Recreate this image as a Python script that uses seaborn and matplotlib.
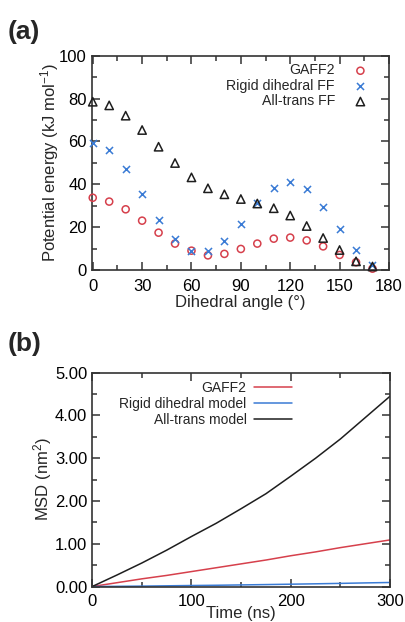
import matplotlib
matplotlib.use("Agg")
import matplotlib.pyplot as plt
import seaborn as sns
import numpy as np
import pandas as pd
from matplotlib.ticker import MultipleLocator, FormatStrFormatter

# ---- Data panel (a) ----
angles = [0, 10, 20, 30, 40, 50, 60, 70, 80, 90, 100, 110, 120, 130, 140, 150, 160, 170]
gaff2_e = [33.7, 31.9, 28.3, 23.0, 17.4, 12.3, 9.0, 6.8, 7.5, 9.8, 12.3, 14.6, 15.1, 13.8, 11.0, 7.0, 3.6, 0.6]
rigid_e = [59.4, 56.1, 47.3, 35.5, 23.3, 14.5, 9.0, 9.0, 13.4, 21.6, 31.3, 38.4, 41.1, 37.9, 29.5, 19.0, 9.3, 2.2]
alltrans_e = [78.5, 76.8, 72.0, 65.3, 57.5, 49.9, 43.2, 38.1, 35.3, 33.1, 31.0, 28.8, 25.4, 20.5, 14.9, 9.3, 4.0, 1.6]

# ---- Data panel (b) ----
time_ns = [0, 25, 50, 75, 100, 125, 150, 175, 200, 225, 250, 275, 300]
msd_gaff2 = [0, 0.09, 0.18, 0.26, 0.35, 0.44, 0.53, 0.62, 0.72, 0.81, 0.91, 1.00, 1.09]
msd_rigid = [0, 0.005, 0.01, 0.017, 0.024, 0.03, 0.038, 0.046, 0.055, 0.064, 0.074, 0.085, 0.095]
msd_alltrans = [0, 0.27, 0.55, 0.85, 1.17, 1.48, 1.82, 2.17, 2.58, 3.00, 3.45, 3.95, 4.45]

RED = "#d6404c"
BLUE = "#3a7bd5"
BLACK = "#1e1e1e"

sns.set_style("ticks")
plt.rcParams['font.family'] = ['Liberation Sans', 'DejaVu Sans']
plt.rcParams['mathtext.fontset'] = 'custom'
plt.rcParams['mathtext.rm'] = 'Liberation Sans'
plt.rcParams['mathtext.it'] = 'Liberation Sans:italic'
plt.rcParams['axes.linewidth'] = 1.2

fig = plt.figure(figsize=(4.06, 6.22), dpi=100)
axa = fig.add_axes([0.226, 0.566, 0.732, 0.3445])
axb = fig.add_axes([0.227, 0.057, 0.734, 0.344])

# Panel (a)
sns.scatterplot(x=angles, y=gaff2_e, ax=axa, marker='o', s=26, facecolor='none',
                edgecolor=RED, linewidth=1.1, label='GAFF2', zorder=3, clip_on=False)
sns.scatterplot(x=angles, y=rigid_e, ax=axa, marker='x', s=26, color=BLUE,
                linewidth=1.1, label='Rigid dihedral FF', zorder=3, clip_on=False)
sns.scatterplot(x=angles, y=alltrans_e, ax=axa, marker='^', s=36, facecolor='none',
                edgecolor=BLACK, linewidth=1.1, label='All-trans FF', zorder=3, clip_on=False)

axa.set_xlim(-0.6, 180)
axa.set_ylim(0, 100)
axa.xaxis.set_major_locator(MultipleLocator(30))
axa.xaxis.set_minor_locator(MultipleLocator(15))
axa.yaxis.set_major_locator(MultipleLocator(20))
axa.yaxis.set_minor_locator(MultipleLocator(10))
axa.set_xlabel('Dihedral angle (°)', fontsize=12, labelpad=1)
axa.set_ylabel('Potential energy (kJ mol$^{-1}$)', fontsize=12, labelpad=-1)
axa.legend(loc='upper right', frameon=False, markerfirst=False, fontsize=10.2,
           handletextpad=0.8, labelspacing=0.1, borderaxespad=0.3,
           bbox_to_anchor=(0.985, 1.01))

# Panel (b)
sns.lineplot(x=time_ns, y=msd_gaff2, ax=axb, color=RED, linewidth=1.1, label='GAFF2')
sns.lineplot(x=time_ns, y=msd_rigid, ax=axb, color=BLUE, linewidth=1.1, label='Rigid dihedral model')
sns.lineplot(x=time_ns, y=msd_alltrans, ax=axb, color=BLACK, linewidth=1.1, label='All-trans model')
axb.set_xlim(0, 300)
axb.set_ylim(0, 5)
axb.xaxis.set_major_locator(MultipleLocator(100))
axb.xaxis.set_minor_locator(MultipleLocator(50))
axb.yaxis.set_major_locator(MultipleLocator(1))
axb.yaxis.set_minor_locator(MultipleLocator(0.5))
axb.yaxis.set_major_formatter(FormatStrFormatter('%.2f'))
axb.set_xlabel('Time (ns)', fontsize=12, labelpad=-2)
axb.set_ylabel('MSD (nm$^2$)', fontsize=12, labelpad=1)
axb.legend(loc='upper right', frameon=False, markerfirst=False, fontsize=10,
           handlelength=2.8, handletextpad=0.5, labelspacing=0.15, borderaxespad=0.2,
           bbox_to_anchor=(0.70, 1.0))

for ax in (axa, axb):
    ax.tick_params(which='both', direction='in', top=True, right=True, labelsize=12,
                   width=1.1, colors='#333333', labelcolor='black')
    ax.tick_params(which='major', length=6)
    ax.tick_params(which='minor', length=3.5)
    for sp in ax.spines.values():
        sp.set_color('#333333')
        sp.set_visible(True)
axa.tick_params(axis='x', which='major', pad=6.5)
axb.tick_params(axis='x', which='major', pad=5.5)

fig.text(0.02, 0.938, '(a)', fontsize=19, fontweight='bold')
fig.text(0.02, 0.436, '(b)', fontsize=19, fontweight='bold')

fig.savefig('out.png', dpi=100)
